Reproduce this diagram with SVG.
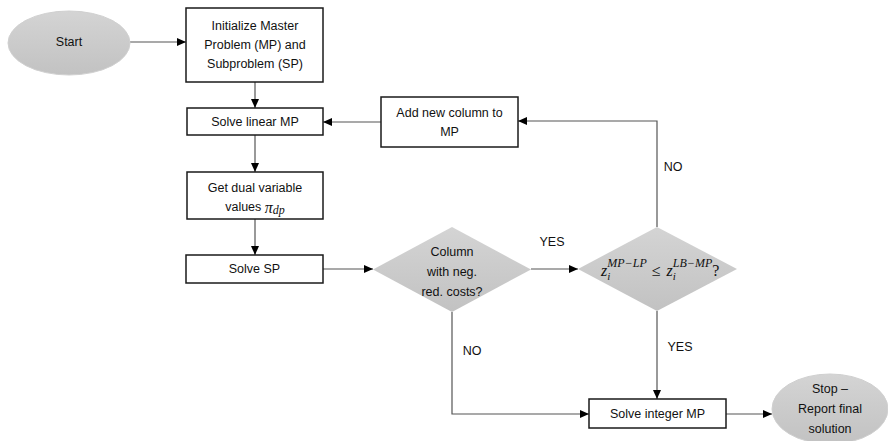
<svg xmlns="http://www.w3.org/2000/svg" width="888" height="441" viewBox="0 0 888 441">
<defs>
<linearGradient id="g" x1="0" y1="0" x2="0" y2="1">
<stop offset="0" stop-color="#d4d4d4"/>
<stop offset="1" stop-color="#c2c2c2"/>
</linearGradient>
<marker id="ah" markerWidth="10" markerHeight="8" refX="9" refY="4" orient="auto" markerUnits="userSpaceOnUse">
<path d="M0,0 L9,4 L0,8 Z" fill="#000"/>
</marker>
</defs>
<style>
.box{fill:#fff;stroke:#1a1a1a;stroke-width:1.5}
.term{fill:url(#g);stroke:#d0d0d0;stroke-width:1}
.dec{fill:url(#g);stroke:none}
.t{font-family:"Liberation Sans","Open Sans",sans-serif;font-size:12.5px;fill:#111;text-anchor:middle;dominant-baseline:central}
.m{font-family:"Liberation Serif","DejaVu Serif",serif;font-style:italic;fill:#111}
.c{fill:none;stroke:#555;stroke-width:1.2;marker-end:url(#ah)}
.l{fill:none;stroke:#555;stroke-width:1.2}
</style>
<rect width="888" height="441" fill="#fff"/>
<g id="connectors">
<path class="c" d="M130,42 H186"/>
<path class="c" d="M255,82 V108"/>
<path class="c" d="M381,122 H323"/>
<path class="c" d="M255,135 V172"/>
<path class="c" d="M255,219 V255"/>
<path class="c" d="M323,269 H373"/>
<path class="c" d="M531,269 H578"/>
<path class="c" d="M657,227 V121 H518"/>
<path class="c" d="M657,311 V399"/>
<path class="c" d="M452,312 V414 H589"/>
<path class="c" d="M726,414 H772"/>
<text class="t" x="552" y="242">YES</text>
<text class="t" x="673" y="167">NO</text>
<text class="t" x="680" y="347">YES</text>
<text class="t" x="472" y="351">NO</text>
</g>
<g id="start">
<ellipse class="term" cx="69" cy="43" rx="61" ry="32"/>
<text class="t" x="69" y="42">Start</text>
</g>
<g id="init">
<rect class="box" x="186" y="8" width="137" height="74"/>
<text class="t" x="255" y="26">Initialize Master</text>
<text class="t" x="255" y="45">Problem (MP) and</text>
<text class="t" x="255" y="64">Subproblem (SP)</text>
</g>
<g id="solve-linear">
<rect class="box" x="187" y="108" width="136" height="27"/>
<text class="t" x="255" y="121.5">Solve linear MP</text>
</g>
<g id="add-column">
<rect class="box" x="381" y="97" width="137" height="50"/>
<text class="t" x="449.5" y="113">Add new column to</text>
<text class="t" x="449.5" y="132">MP</text>
</g>
<g id="get-dual">
<rect class="box" x="187" y="172" width="136" height="47"/>
<text class="t" x="255" y="188">Get dual variable</text>
<text class="t" x="255" y="207"><tspan>values </tspan><tspan class="m" font-size="16">π</tspan><tspan class="m" font-size="12" dy="3">dp</tspan></text>
</g>
<g id="solve-sp">
<rect class="box" x="186" y="255" width="137" height="28"/>
<text class="t" x="254.5" y="269">Solve SP</text>
</g>
<g id="neg-cost">
<polygon class="dec" points="452,227 531,269.5 452,312 373,269.5"/>
<text class="t" x="452" y="252">Column</text>
<text class="t" x="452" y="272">with neg.</text>
<text class="t" x="452" y="292">red. costs?</text>
</g>
<g id="bound-check">
<polygon class="dec" points="657,227 737,269 657,311 578,269"/>
<text class="m" x="601" y="276" font-size="16">z<tspan font-size="11" dy="4">i</tspan><tspan font-size="12" dx="-3" dy="-13">MP−LP</tspan><tspan font-style="normal" font-size="16" dx="5" dy="9">≤</tspan><tspan font-size="16" dx="6">z</tspan><tspan font-size="11" dy="4">i</tspan><tspan font-size="12" dx="-3" dy="-13">LB−MP</tspan><tspan font-style="normal" font-size="16" dy="9">?</tspan></text>
</g>
<g id="solve-integer">
<rect class="box" x="589" y="399" width="137" height="29"/>
<text class="t" x="657.5" y="413.5">Solve integer MP</text>
</g>
<g id="stop">
<ellipse class="term" cx="830" cy="409" rx="58" ry="35"/>
<text class="t" x="830" y="389">Stop –</text>
<text class="t" x="830" y="409">Report final</text>
<text class="t" x="830" y="429">solution</text>
</g>
</svg>
